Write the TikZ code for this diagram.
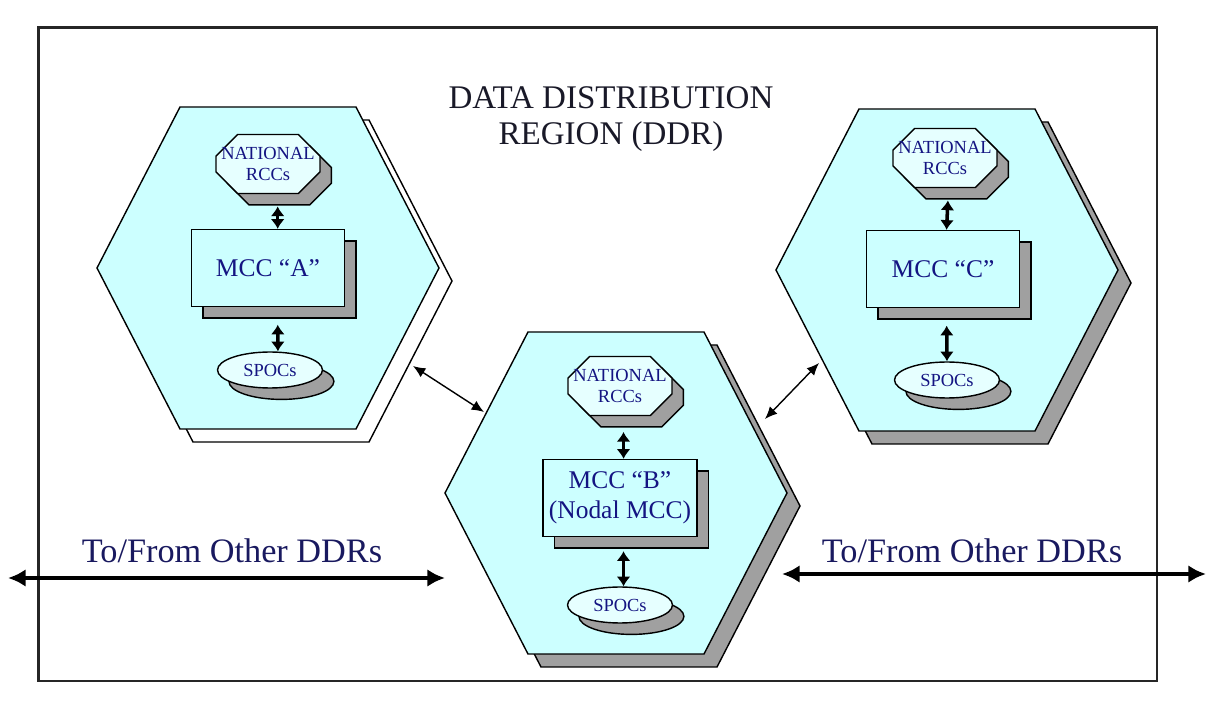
\documentclass[tikz,border=0pt]{standalone}
\usepackage{fontspec}
\setmainfont{Liberation Serif}
\usetikzlibrary{arrows.meta,shapes.misc,shapes.geometric,shadows}

\definecolor{ddrcyan}{RGB}{204,255,255}
\definecolor{ddrpale}{RGB}{230,255,255}
\definecolor{ddrgray}{RGB}{160,160,160}
\definecolor{ddrblue}{RGB}{20,20,130}
\definecolor{ddrnavy}{RGB}{25,25,95}
\definecolor{ddrtitle}{RGB}{25,25,40}

\tikzset{
  region/.style={draw, fill=ddrcyan, line width=0.8pt},
  regionshade/.style={draw, fill=ddrgray, line width=0.8pt},
  boxshade/.style={drop shadow={shadow xshift=6.5pt, shadow yshift=-6.5pt, fill=ddrgray, draw=black, opacity=1}},
  rcc/.style={chamfered rectangle, chamfered rectangle xsep=11pt, draw, fill=ddrpale,
    inner xsep=-11pt, inner ysep=0pt, minimum width=2.08cm, minimum height=1.18cm,
    align=center, text=ddrblue, font=\fontsize{10.5}{11.5}\selectfont, line width=0.8pt, boxshade},
  mcc/.style={rectangle, draw, fill=ddrcyan, minimum width=3.06cm, minimum height=1.54cm,
    align=center, text=ddrblue, font=\fontsize{14.5}{17}\selectfont, line width=0.8pt, boxshade},
  spoc/.style={ellipse, draw, fill=ddrpale, minimum width=2.1cm, minimum height=0.72cm, inner sep=0pt,
    text=ddrblue, font=\fontsize{10.5}{12}\selectfont, line width=0.8pt, boxshade},
  updown/.style={{Latex[length=5.5pt,width=8pt]}-{Latex[length=5.5pt,width=8pt]}, line width=2pt},
  link/.style={{Latex[length=7pt,width=6pt]}-{Latex[length=7pt,width=6pt]}, line width=0.8pt},
  biglink/.style={{Latex[length=10pt,width=10pt]}-{Latex[length=10pt,width=10pt]}, line width=2.3pt},
  other/.style={text=ddrnavy, font=\fontsize{19.5}{23}\selectfont}
}
\newcommand{\hexpath}{(-171,0) -- (-88,-161) -- (88,-161) -- (171,0) -- (88,161) -- (-88,161) -- cycle}

\begin{document}
\begin{tikzpicture}[x=0.02cm, y=-0.02cm]
\useasboundingbox (0,0) rectangle (1225,709);
\draw[line width=1.4pt, black!85] (38.5,27.5) rectangle (1157,681);

\node[align=center, text=ddrtitle, font=\fontsize{18.8}{20.5}\selectfont] (title) at (611,119) {DATA DISTRIBUTION\\REGION (DDR)};

% the three regions
\begin{scope}[shift={(268,268)}]
\draw[region, fill=white, shift={(13,13)}] \hexpath;
\draw[region] \hexpath;
\end{scope}
\begin{scope}[shift={(616,493)}]
\draw[regionshade, shift={(13,13)}] \hexpath;
\draw[region] \hexpath;
\end{scope}
\begin{scope}[shift={(947,270)}]
\draw[regionshade, shift={(13,13)}] \hexpath;
\draw[region] \hexpath;
\end{scope}

% MCC A
\node[rcc] (rccA) at (268,164) {NATIONAL\\RCCs};
\node[mcc] (mccA) at (268,268) {MCC “A”};
\node[spoc] (spocA) at (270,370) {SPOCs};
\draw[updown, shorten <=7pt] ([xshift=5.5pt]rccA.south) -- ([xshift=5.5pt]mccA.north);
\draw[updown, shorten <=10pt] ([xshift=5.5pt]mccA.south) -- ([xshift=4.5pt]spocA.north);

% MCC B
\node[rcc] (rccB) at (620,386) {NATIONAL\\RCCs};
\node[mcc] (mccB) at (620,498) {MCC “B”\\(Nodal MCC)};
\node[spoc] (spocB) at (620,605) {SPOCs};
\draw[updown, shorten <=9pt] ([xshift=2pt]rccB.south) -- ([xshift=2pt]mccB.north);
\draw[updown, shorten <=8pt] ([xshift=2pt]mccB.south) -- ([xshift=2pt]spocB.north);

% MCC C
\node[rcc] (rccC) at (945,158) {NATIONAL\\RCCs};
\node[mcc] (mccC) at (943,269) {MCC “C”};
\node[spoc] (spocC) at (947,380) {SPOCs};
\draw[updown, shorten <=7pt] ([xshift=2pt]rccC.south) -- ([xshift=2pt]mccC.north);
\draw[updown, shorten <=10pt] ([xshift=2pt]mccC.south) -- (spocC.north);

% links between regions
\coordinate (abA) at (413,366);
\coordinate (abB) at (484,412);
\coordinate (cbC) at (819,363);
\coordinate (cbB) at (765,419);
\draw[link] (abA) -- (abB);
\draw[link] (cbC) -- (cbB);

% to/from other DDRs
\coordinate (westout) at (8,578);
\coordinate (westin) at (445,578);
\coordinate (eastin) at (782,574);
\coordinate (eastout) at (1206,574);
\draw[biglink] (westout) -- (westin);
\draw[biglink] (eastin) -- (eastout);
\node[other] (otherW) at (232,551) {To/From Other DDRs};
\node[other] (otherE) at (972,551) {To/From Other DDRs};
\end{tikzpicture}
\end{document}
